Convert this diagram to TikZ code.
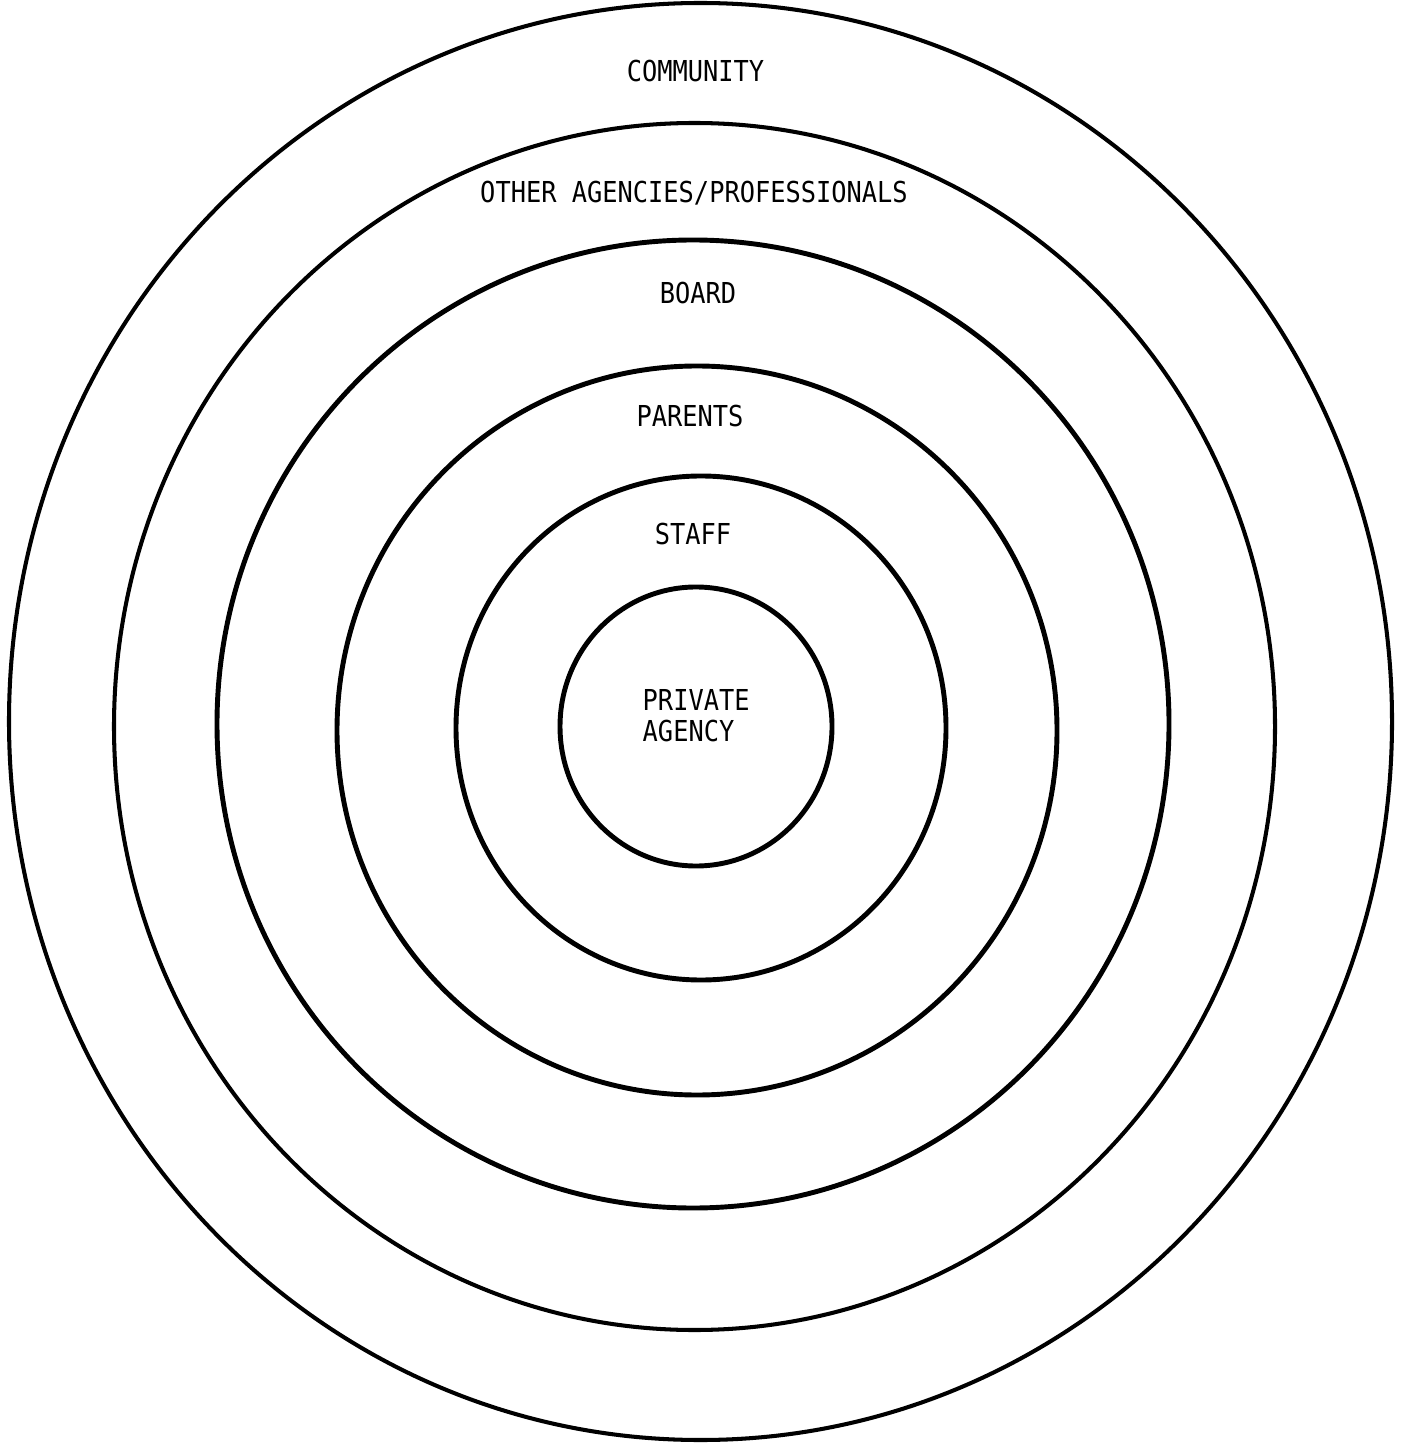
\documentclass[tikz,border=0pt]{standalone}
\usepackage{fontspec}
\setmonofont[FakeStretch=0.88]{DejaVu Sans Mono}
\usepackage{tikz}
\usetikzlibrary{positioning}

\begin{document}
\begin{tikzpicture}[
    x=0.1mm, y=-0.1mm,
    ring/.style={draw, line width=1.4pt},
    outerring/.style={draw, line width=1.15pt},
    label/.style={font=\ttfamily\fontsize{8.2}{8.8}\selectfont, inner sep=0pt, anchor=base}
]

% Page frame
\useasboundingbox (0,0) rectangle (1405,1443);

% Rings, inside out
\draw[ring] (696,726.5) ellipse [x radius=136, y radius=139.5];
\draw[ring] (701,728) ellipse [x radius=245, y radius=252];
\draw[ring] (697,730.5) ellipse [x radius=360, y radius=364.5];
\draw[ring] (693,724) ellipse [x radius=476, y radius=484];
\draw[outerring] (694.5,726.5) ellipse [x radius=580.5, y radius=603.5];
\draw[outerring] (700.5,721.5) ellipse [x radius=691.5, y radius=718.5];

% Labels
\node[label] (community) at (695.5,82) {COMMUNITY};
\node[label] (others) at (694,203) {OTHER AGENCIES/PROFESSIONALS};
\node[label] (board) at (698,304) {BOARD};
\node[label] (parents) at (690,427) {PARENTS};
\node[label] (staff) at (693,545) {STAFF};
\node[label, anchor=west, align=left] (agency) at (642,716) {PRIVATE\\AGENCY};

\end{tikzpicture}
\end{document}
